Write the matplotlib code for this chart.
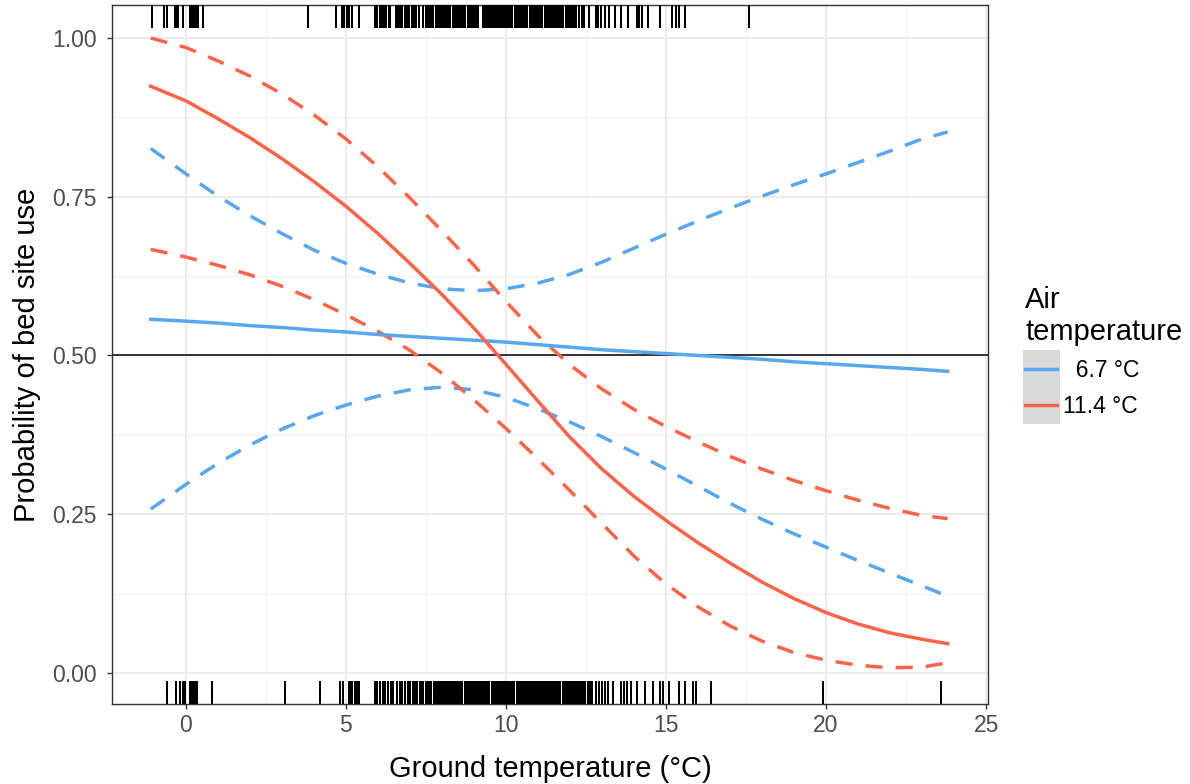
import matplotlib
matplotlib.use("Agg")
import matplotlib.pyplot as plt
from matplotlib.lines import Line2D
from matplotlib.patches import Rectangle
from matplotlib.ticker import MultipleLocator

# ground temperature grid the fitted curves were read at
ground_temp = [-1.1, 0, 1, 2, 3, 4, 5, 6, 7, 8, 9, 10, 11, 12, 13, 14, 15, 16,
               17, 18, 19, 20, 21, 22, 23, 23.8]

# air temperature 6.7 C: fit, lower and upper bounds
cool_fit = [0.557, 0.554, 0.551, 0.547, 0.544, 0.540, 0.537, 0.533, 0.530, 0.527,
            0.524, 0.521, 0.517, 0.513, 0.509, 0.506, 0.503, 0.500, 0.497, 0.494,
            0.490, 0.487, 0.484, 0.481, 0.478, 0.475]
cool_lo = [0.258, 0.297, 0.330, 0.359, 0.384, 0.405, 0.422, 0.436, 0.446, 0.450,
           0.446, 0.434, 0.416, 0.395, 0.372, 0.347, 0.321, 0.294, 0.267, 0.242,
           0.219, 0.198, 0.177, 0.157, 0.137, 0.121]
cool_hi = [0.826, 0.786, 0.751, 0.720, 0.692, 0.666, 0.645, 0.628, 0.614, 0.605,
           0.602, 0.605, 0.614, 0.628, 0.647, 0.669, 0.691, 0.712, 0.732, 0.751,
           0.769, 0.786, 0.804, 0.822, 0.841, 0.852]

# air temperature 11.4 C
warm_fit = [0.924, 0.901, 0.873, 0.843, 0.810, 0.774, 0.735, 0.692, 0.645, 0.596,
            0.543, 0.486, 0.428, 0.371, 0.321, 0.278, 0.240, 0.205, 0.173, 0.143,
            0.117, 0.095, 0.077, 0.063, 0.053, 0.046]
warm_lo = [0.667, 0.655, 0.642, 0.627, 0.609, 0.588, 0.564, 0.538, 0.508, 0.472,
           0.430, 0.385, 0.337, 0.287, 0.235, 0.184, 0.140, 0.104, 0.074, 0.050,
           0.032, 0.020, 0.012, 0.008, 0.009, 0.016]
warm_hi = [1.000, 0.985, 0.964, 0.940, 0.912, 0.879, 0.841, 0.797, 0.748, 0.696,
           0.642, 0.585, 0.531, 0.485, 0.447, 0.415, 0.388, 0.364, 0.341, 0.321,
           0.303, 0.287, 0.272, 0.259, 0.248, 0.243]

# observed ground temperatures: used bed sites (top rug) and unused (bottom rug)
used_temps = [-1.07, -0.68, -0.58, -0.35, -0.30, -0.25, -0.08, 0.12, 0.18, 0.25,
              0.31, 0.37, 0.53, 3.8, 4.7, 4.88, 4.95, 5.02, 5.1, 5.2, 5.4,
              5.92, 5.98, 6.05, 6.12, 6.18, 6.25, 6.33, 6.38, 6.55, 6.62, 6.68,
              6.76, 6.83, 6.9, 6.97, 7.05, 7.12, 7.2, 7.27, 7.42, 7.5, 7.56,
              7.62, 7.68, 7.73, 7.80, 7.86, 7.91, 7.97, 8.03, 8.08, 8.15, 8.21,
              8.26, 8.33, 8.38, 8.44, 8.50, 8.55, 8.62, 8.67, 8.73, 8.80, 8.85,
              8.91, 8.97, 9.02, 9.09, 9.14, 9.27, 9.33, 9.38, 9.45, 9.50, 9.56,
              9.63, 9.68, 9.74, 9.80, 9.86, 9.91, 9.98, 10.03, 10.09, 10.15,
              10.20, 10.27, 10.32, 10.38, 10.45, 10.50, 10.56, 10.62, 10.67,
              10.74, 10.79, 10.85, 10.92, 10.97, 11.03, 11.09, 11.14, 11.21,
              11.26, 11.32, 11.39, 11.44, 11.50, 11.56, 11.61, 11.68, 11.73,
              11.79, 11.86, 11.91, 11.97, 12.03, 12.08, 12.15, 12.20, 12.27,
              12.36, 12.45, 12.58, 12.8, 12.88, 12.97, 13.08, 13.22, 13.4, 13.6,
              13.8, 14.1, 14.15, 14.25, 14.45, 14.8, 15.2, 15.3, 15.4, 15.6, 17.6]
unused_temps = [-0.58, -0.3, -0.2, -0.1, -0.02, 0.12, 0.18, 0.24, 0.3, 0.35, 0.8,
                3.1, 4.2, 4.8, 4.9, 5.08, 5.14, 5.2, 5.28, 5.35, 5.4, 5.9, 5.98,
                6.07, 6.15, 6.22, 6.3, 6.4, 6.47, 6.6, 6.68, 6.75, 6.85, 6.93,
                7.0, 7.1, 7.16, 7.22, 7.3, 7.36, 7.42, 7.5, 7.55, 7.61, 7.67,
                7.74, 7.79, 7.85, 7.92, 7.98, 8.04, 8.1, 8.16, 8.22, 8.28, 8.35,
                8.4, 8.46, 8.53, 8.58, 8.64, 8.71, 8.76, 8.82, 8.88, 8.95, 9.0,
                9.06, 9.13, 9.18, 9.24, 9.3, 9.37, 9.42, 9.48, 9.55, 9.6, 9.66,
                9.73, 9.78, 9.84, 9.9, 9.97, 10.02, 10.08, 10.15, 10.2, 10.26,
                10.33, 10.38, 10.44, 10.5, 10.57, 10.62, 10.68, 10.75, 10.8,
                10.86, 10.93, 10.98, 11.04, 11.1, 11.17, 11.22, 11.28, 11.35,
                11.4, 11.46, 11.53, 11.58, 11.64, 11.7, 11.77, 11.82, 11.88,
                11.95, 12.0, 12.06, 12.13, 12.18, 12.24, 12.3, 12.37, 12.42,
                12.48, 12.55, 12.62, 12.68, 12.8, 12.9, 13.0, 13.1, 13.2, 13.35,
                13.6, 13.68, 13.78, 13.9, 14.1, 14.35, 14.6, 14.8, 14.9, 15.1,
                15.4, 15.6, 15.85, 15.95, 16.4, 19.9, 23.6]

air_labels = ["  6.7 \u00b0C", "11.4 \u00b0C"]
blue = "#56A7EE"
red = "#FF6347"

plt.rcParams["font.family"] = ["Liberation Sans", "DejaVu Sans"]

fig = plt.figure(figsize=(11.9, 7.84), dpi=100)
ax = fig.add_axes([112 / 1190, 1 - 704 / 784, 876 / 1190, 699 / 784])

lw = 2.5
dash = (4.9, 3.8)
ax.plot(ground_temp, cool_lo, color=blue, lw=lw, ls=(0, dash), zorder=3)
ax.plot(ground_temp, cool_hi, color=blue, lw=lw, ls=(0, dash), zorder=3)
ax.plot(ground_temp, warm_lo, color=red, lw=lw, ls=(0, dash), zorder=3)
ax.plot(ground_temp, warm_hi, color=red, lw=lw, ls=(0, dash), zorder=3)
ax.plot(ground_temp, cool_fit, color=blue, lw=lw, zorder=4)
ax.plot(ground_temp, warm_fit, color=red, lw=lw, zorder=4)
ax.axhline(0.5, color="#333333", lw=1.4, zorder=2)

# rugs
ax.vlines(used_temps, 0.967, 1.0, transform=ax.get_xaxis_transform(),
          color="black", lw=1.4, antialiased=False, zorder=5)
ax.vlines(unused_temps, 0.0, 0.033, transform=ax.get_xaxis_transform(),
          color="black", lw=1.4, antialiased=False, zorder=5)

ax.set_xlim(-2.31, 25.06)
ax.set_ylim(-0.049, 1.052)
ax.xaxis.set_major_locator(MultipleLocator(5))
ax.xaxis.set_minor_locator(MultipleLocator(2.5))
ax.yaxis.set_minor_locator(MultipleLocator(0.125))
ax.set_yticks([0, 0.25, 0.5, 0.75, 1.0], ["0.00", "0.25", "0.50", "0.75", "1.00"])
ax.grid(which="major", color="#EBEBEB", lw=1.4, zorder=0)
ax.grid(which="minor", color="#F2F2F2", lw=0.8, zorder=0)
ax.set_axisbelow(True)
ax.tick_params(which="major", length=3.6, width=1, color="#333333",
               labelsize=16.5, labelcolor="#4D4D4D")
ax.tick_params(axis="x", pad=3.5)
ax.tick_params(axis="y", pad=7.2)
ax.tick_params(which="minor", length=0)
for s in ax.spines.values():
    s.set_color("#333333")
    s.set_linewidth(1)

ax.set_xlabel("Ground temperature (\u00b0C)", fontsize=21, labelpad=13)
ax.set_ylabel("Probability of bed site use", fontsize=21, labelpad=8)

# legend
handles = [Line2D([], [], color=blue, lw=lw), Line2D([], [], color=red, lw=lw)]
leg = ax.legend(handles, air_labels, title="Air\ntemperature",
                loc="upper left", bbox_to_anchor=(1025 / 1190, 1 - 286 / 784),
                bbox_transform=fig.transFigure, frameon=False, fontsize=16.5,
                title_fontsize=21, alignment="left", handlelength=1.4,
                handletextpad=0.25, labelspacing=0.55, borderpad=0,
                borderaxespad=0)
fig.add_artist(Rectangle((1023 / 1190, 1 - 424 / 784), 37 / 1190, 74 / 784,
                         transform=fig.transFigure, facecolor="#D9D9D9",
                         edgecolor="none", zorder=0))

fig.savefig("out.png", dpi=100)
